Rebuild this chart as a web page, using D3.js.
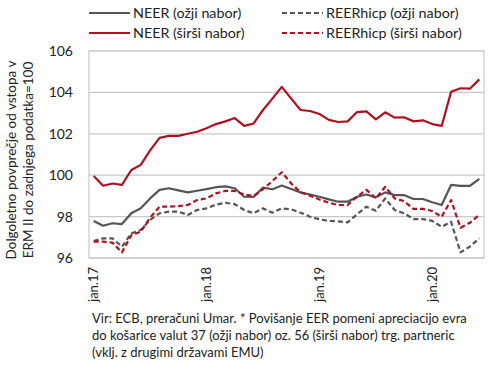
<!DOCTYPE html>
<html><head><meta charset="utf-8">
<script src="https://cdn.jsdelivr.net/npm/d3@7/dist/d3.min.js"></script>
<style>
body{margin:0;background:#fff}
text{font-family:Lato,"Open Sans",sans-serif;fill:#222}
</style>
</head><body><svg id="c" width="490" height="380"></svg>
<script>
const months = ["jan.17","feb.17","mar.17","apr.17","maj.17","jun.17","jul.17","avg.17","sep.17","okt.17","nov.17","dec.17",
"jan.18","feb.18","mar.18","apr.18","maj.18","jun.18","jul.18","avg.18","sep.18","okt.18","nov.18","dec.18",
"jan.19","feb.19","mar.19","apr.19","maj.19","jun.19","jul.19","avg.19","sep.19","okt.19","nov.19","dec.19",
"jan.20","feb.20","mar.20","apr.20","maj.20","jun.20"];
const tickLabels = ["jan.17","jan.18","jan.19","jan.20"];
const yTicks = [96,98,100,102,104,106];

const neerNarrow = [97.79,97.56,97.68,97.64,98.16,98.40,98.88,99.29,99.37,99.27,99.17,99.25,
99.33,99.42,99.46,99.37,98.96,98.95,99.40,99.32,99.50,99.33,99.17,99.07,
98.96,98.83,98.72,98.72,98.96,99.07,98.93,99.17,99.04,99.04,98.85,98.85,
98.69,98.56,99.53,99.48,99.48,99.82];
const neerBroad = [99.96,99.49,99.60,99.53,100.25,100.50,101.20,101.80,101.90,101.90,102.00,102.10,
102.27,102.47,102.60,102.76,102.38,102.50,103.15,103.70,104.27,103.70,103.15,103.10,
102.96,102.67,102.57,102.60,103.05,103.08,102.70,103.04,102.78,102.80,102.60,102.65,
102.47,102.38,104.03,104.20,104.18,104.63];
const reerNarrow = [96.82,96.95,96.95,96.55,97.19,97.35,97.84,98.16,98.24,98.24,98.08,98.32,
98.40,98.58,98.67,98.60,98.32,98.16,98.40,98.19,98.40,98.35,98.19,97.99,
97.87,97.79,97.77,97.72,98.11,98.48,98.28,98.88,98.32,98.16,97.88,97.88,
97.79,97.51,97.75,96.27,96.55,96.95];
const reerBroad = [96.79,96.79,96.74,96.27,97.10,97.27,97.95,98.48,98.48,98.51,98.56,98.80,
98.88,99.12,99.24,99.24,99.07,99.00,99.32,99.72,100.14,99.60,99.17,99.01,
98.83,98.67,98.56,98.56,98.96,99.29,98.88,99.44,98.88,98.75,98.37,98.37,
98.27,97.99,98.80,97.46,97.70,98.08];

const seriesNames = ["NEER (ožji nabor)","REERhicp (ožji nabor)","NEER (širši nabor)","REERhicp (širši nabor)"];
const red = "#b0101e", gray = "#555555";
const series = [
  {name: seriesNames[0], values: neerNarrow, color: gray, dash: null},
  {name: seriesNames[1], values: reerNarrow, color: gray, dash: "5,3"},
  {name: seriesNames[2], values: neerBroad, color: red, dash: null},
  {name: seriesNames[3], values: reerBroad, color: red, dash: "5,3"}
];

const svg = d3.select("#c");
const L = 89, R = 484, T = 51, B = 258;
const x = d3.scaleBand().domain(months).range([L, R]).padding(0);
const cx = d => x(d) + x.bandwidth() / 2;
const y = d3.scaleLinear().domain([96, 106]).range([B, T]);

// gridlines
svg.append("g").selectAll("line").data(yTicks).join("line")
  .attr("x1", L).attr("x2", R).attr("y1", d => y(d)).attr("y2", d => y(d))
  .attr("stroke", "#c8c8c8").attr("stroke-width", 1.2);
// frame
svg.append("rect").attr("x", L).attr("y", T).attr("width", R - L).attr("height", B - T)
  .attr("fill", "none").attr("stroke", "#c8c8c8").attr("stroke-width", 1.2);

// y axis labels
const yAxis = d3.axisLeft(y).tickValues(yTicks).tickSize(0).tickPadding(16).tickFormat(d3.format("d"));
const gy = svg.append("g").attr("transform", `translate(${L},0)`).call(yAxis);
gy.select(".domain").remove();
gy.selectAll("text").style("font-size", "14px").style("font-family", "Lato,sans-serif").attr("fill", "#222");

// x axis labels
const xAxis = d3.axisBottom(x).tickValues(tickLabels).tickSize(0).tickPadding(0);
const gx = svg.append("g").attr("transform", `translate(0,${B})`).call(xAxis);
gx.select(".domain").remove();
gx.selectAll("text").style("font-size", "13px").style("font-family", "Lato,sans-serif").attr("fill", "#222")
  .attr("transform", "rotate(-90)").attr("text-anchor", "end").attr("x", -9).attr("y", 0).attr("dy", "0.35em");

// lines
const line = d3.line().x((d, i) => cx(months[i])).y(d => y(d));
svg.append("g").selectAll("path").data(series).join("path")
  .attr("d", d => line(d.values))
  .attr("fill", "none").attr("stroke", d => d.color).attr("stroke-width", 2.2)
  .attr("stroke-dasharray", d => d.dash).attr("stroke-linejoin", "round");

// legend
const legPos = [[89, 13], [282, 13], [89, 33], [282, 33]];
const lg = svg.append("g").selectAll("g").data(series).join("g")
  .attr("transform", (d, i) => `translate(${legPos[i][0]},${legPos[i][1]})`);
lg.append("line").attr("x1", 0).attr("x2", 41).attr("y1", 0).attr("y2", 0)
  .attr("stroke", d => d.color).attr("stroke-width", 2).attr("stroke-dasharray", d => d.dash);
lg.append("text").attr("x", 44).attr("y", 0).attr("dy", "0.35em").style("font-size", "14.3px").text(d => d.name);

// y title
const yt = svg.append("text").attr("transform", "translate(0,160) rotate(-90)").attr("text-anchor", "middle").style("font-size", "13.5px");
yt.append("tspan").attr("x", 0).attr("y", 16).text("Dolgoletno povprečje od vstopa v");
yt.append("tspan").attr("x", 0).attr("y", 33).text("ERM II do zadnjega podatka=100");

// footnote
const fn = ["Vir: ECB, preračuni Umar. * Povišanje EER pomeni apreciacijo evra",
  "do košarice valut 37 (ožji nabor) oz. 56 (širši nabor) trg. partneric",
  "(vklj. z drugimi državami EMU)"];
svg.append("g").selectAll("text").data(fn).join("text")
  .attr("x", 92).attr("y", (d, i) => 323 + i * 17).style("font-size", "13px").text(d => d);
</script>
</body></html>
